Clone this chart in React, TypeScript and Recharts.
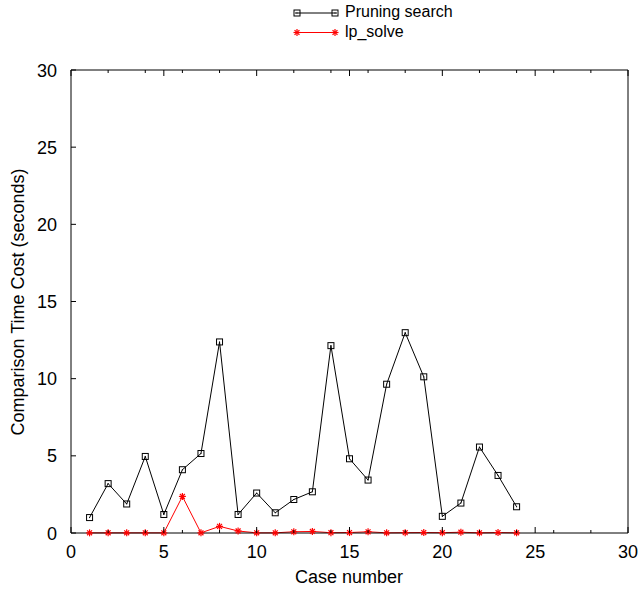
import { LineChart, Line, XAxis, YAxis } from 'recharts';

const cases = [1, 2, 3, 4, 5, 6, 7, 8, 9, 10, 11, 12, 13, 14, 15, 16, 17, 18, 19, 20, 21, 22, 23, 24];
const pruningSearch = [1.0, 3.2, 1.88, 4.96, 1.2, 4.1, 5.15, 12.38, 1.2, 2.59, 1.31, 2.17, 2.67, 12.14, 4.81, 3.43, 9.64, 12.98, 10.12, 1.08, 1.94, 5.57, 3.73, 1.7];
const lpSolve = [0.01, 0.01, 0.01, 0.01, 0.01, 2.37, 0.01, 0.43, 0.13, 0.01, 0.01, 0.08, 0.1, 0.02, 0.03, 0.08, 0.01, 0.02, 0.03, 0.02, 0.05, 0.01, 0.03, 0.01];
const xTicks = [0, 2, 4, 5, 6, 8, 10, 12, 14, 15, 16, 18, 20, 22, 24, 25, 26, 28, 30];
const yTicks = [0, 5, 10, 15, 20, 25, 30];

const data = cases.map((c, i) => ({ case: c, pruning: pruningSearch[i], lp: lpSolve[i] }));

const FONT = '"Liberation Sans", Arial, Helvetica, sans-serif';

function SquareDot(props: any) {
  const { cx, cy } = props;
  if (cx == null || cy == null) return null;
  return (
    <g>
      <rect x={cx - 3} y={cy - 3} width={6} height={6} fill="none" stroke="#000" strokeWidth={1} />
      <rect x={cx - 0.5} y={cy - 0.5} width={1} height={1} fill="#000" />
    </g>
  );
}

function StarDot(props: any) {
  const { cx, cy } = props;
  if (cx == null || cy == null) return null;
  const r = 3.5;
  return (
    <g stroke="#ff0000" strokeWidth={1.2}>
      <line x1={cx - r} y1={cy} x2={cx + r} y2={cy} />
      <line x1={cx} y1={cy - r} x2={cx} y2={cy + r} />
      <line x1={cx - r * 0.7} y1={cy - r * 0.7} x2={cx + r * 0.7} y2={cy + r * 0.7} />
      <line x1={cx - r * 0.7} y1={cy + r * 0.7} x2={cx + r * 0.7} y2={cy - r * 0.7} />
    </g>
  );
}

const isMajor = (v: number) => v % 5 === 0;

function BottomTick(props: any) {
  const { x, y, payload } = props;
  const v = payload.value;
  const len = isMajor(v) ? 6 : 3;
  return (
    <g>
      <path d={`M${x},${y}V${y - len}`} stroke="#000" strokeWidth={1} fill="none" />
      {isMajor(v) && (
        <text x={x} y={y + 25} textAnchor="middle" fontSize={18} fontFamily={FONT} fill="#000">
          {v}
        </text>
      )}
    </g>
  );
}

function TopTick(props: any) {
  const { x, y, payload } = props;
  const len = isMajor(payload.value) ? 6 : 3;
  return <path d={`M${x},${y}V${y + len}`} stroke="#000" strokeWidth={1} fill="none" />;
}

function LeftTick(props: any) {
  const { x, y, payload } = props;
  return (
    <g>
      <path d={`M${x},${y}H${x + 5}`} stroke="#000" strokeWidth={1} fill="none" />
      <text x={x - 14} y={y + 6.5} textAnchor="end" fontSize={18} fontFamily={FONT} fill="#000">
        {payload.value}
      </text>
    </g>
  );
}

function RightTick(props: any) {
  const { x, y } = props;
  return <path d={`M${x},${y}H${x - 5}`} stroke="#000" strokeWidth={1} fill="none" />;
}

function LegendBox() {
  return (
    <svg width={639} height={45} style={{ position: 'absolute', left: 0, top: 0 }}>
      <line x1={295} y1={13} x2={337} y2={13} stroke="#000" />
      <SquareDot cx={297} cy={13} />
      <SquareDot cx={335} cy={13} />
      <text x={345} y={17} fontSize={16} fontFamily={FONT} fill="#000">Pruning search</text>
      <line x1={295} y1={32.5} x2={337} y2={32.5} stroke="#ff0000" />
      <StarDot cx={297} cy={32.5} />
      <StarDot cx={335} cy={32.5} />
      <text x={345} y={37} fontSize={16} fontFamily={FONT} fill="#000">lp_solve</text>
    </svg>
  );
}

const axisLine = { stroke: '#000', strokeWidth: 1 };

export default function App() {
  return (
    <div style={{ position: 'absolute', left: 0, top: 0, width: 639, height: 591, background: '#fff' }}>
      <LineChart width={639} height={591} data={data} margin={{ top: 69, right: 10, bottom: 30, left: 40 }}>
        <XAxis
          dataKey="case"
          type="number"
          domain={[0, 30]}
          ticks={xTicks}
          interval={0}
          height={28}
          tickSize={0}
          tickMargin={0}
          tickLine={false}
          stroke="#000"
          axisLine={axisLine}
          tick={BottomTick}
        />
        <XAxis
          xAxisId="top"
          orientation="top"
          dataKey="case"
          type="number"
          domain={[0, 30]}
          ticks={xTicks}
          interval={0}
          height={1}
          tickSize={0}
          tickMargin={0}
          tickLine={false}
          stroke="#000"
          axisLine={axisLine}
          tick={TopTick}
        />
        <YAxis
          type="number"
          domain={[0, 30]}
          ticks={yTicks}
          interval={0}
          width={31}
          tickSize={0}
          tickMargin={0}
          tickLine={false}
          stroke="#000"
          axisLine={axisLine}
          tick={LeftTick}
          label={{
            value: 'Comparison Time Cost (seconds)',
            content: () => (
              <text
                x={24}
                y={302}
                transform="rotate(-90 24 302)"
                textAnchor="middle"
                fontSize={18}
                fontFamily={FONT}
                fill="#000"
              >
                Comparison Time Cost (seconds)
              </text>
            ),
          }}
        />
        <YAxis
          yAxisId="right"
          orientation="right"
          type="number"
          domain={[0, 30]}
          ticks={yTicks}
          interval={0}
          width={1}
          tickSize={0}
          tickMargin={0}
          tickLine={false}
          stroke="#000"
          axisLine={axisLine}
          tick={RightTick}
        />
        <Line
          dataKey="pruning"
          name="Pruning search"
          stroke="#000"
          strokeWidth={1}
          dot={SquareDot}
          activeDot={false}
          isAnimationActive={false}
        />
        <Line
          dataKey="lp"
          name="lp_solve"
          stroke="#ff0000"
          strokeWidth={1}
          dot={StarDot}
          activeDot={false}
          isAnimationActive={false}
        />
        <text x={349} y={583} textAnchor="middle" fontSize={18} fontFamily={FONT} fill="#000">
          Case number
        </text>
      </LineChart>
      <LegendBox />
    </div>
  );
}
